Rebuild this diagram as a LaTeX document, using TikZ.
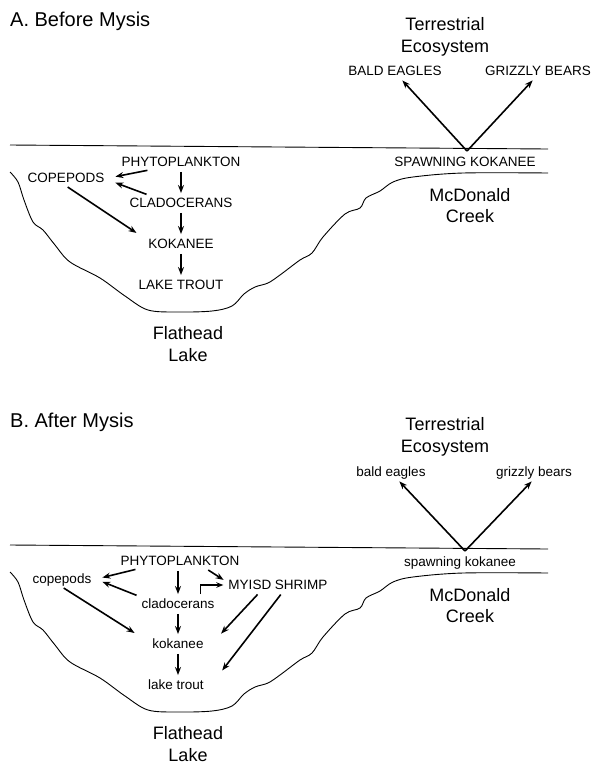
\documentclass[tikz,border=0pt]{standalone}
\usepackage{fontspec}
\setmainfont{Liberation Sans}
\usetikzlibrary{arrows.meta}
\begin{document}
\begin{tikzpicture}[x=1pt,y=-1pt,
  lbl/.style={font=\fontsize{13.5}{15}\selectfont,inner sep=3pt,text height=9.5pt,text depth=0pt},
  big/.style={font=\fontsize{18}{21.5}\selectfont,align=center,inner sep=1pt},
  ttl/.style={font=\fontsize{20}{24}\selectfont,anchor=west,inner sep=0pt},
  arr/.style={-{Stealth[length=8pt,width=6pt]},line width=1.6pt,shorten <=2pt,shorten >=2pt},
  shore/.style={line width=.9pt}]
\useasboundingbox (0,0) rectangle (593,764);
% water surface, lake bed and the fixed labels, once per panel
\foreach \dy/\p in {0/A,400/B}{
\begin{scope}[shift={(0,\dy)}]
\draw[shore] (10,145) -- (548,149);
\draw[shore] plot[smooth,tension=.55] coordinates {(10,172) (18,182) (24,200) (33,222) (43,230)
  (55,245) (70,262) (100,278) (125,296) (148,310) (178,312) (212,311) (232,306) (244,294)
  (255,287) (268,283) (280,275) (300,260) (312,253) (323,237) (345,214) (360,208) (366,198)
  (380,191) (393,182) (413,177) (463,173) (548,173)};
\node[big] (terr\p) at (445,37) {Terrestrial\\Ecosystem};
\node[big] (mcd\p) at (470,205.5) {McDonald\\Creek};
\node[big] (flat\p) at (188,344) {Flathead\\Lake};
\end{scope}
}
% A. before
\node[ttl] (titleA) at (10,21) {A. Before Mysis};
\node[lbl] (eaglesA) at (395,71) {BALD EAGLES};
\node[lbl] (bearsA) at (538,71) {GRIZZLY BEARS};
\node[lbl] (spawnA) at (465,162) {SPAWNING KOKANEE};
\coordinate (apexA) at (467,151);
\node[lbl] (phytoA) at (181,162) {PHYTOPLANKTON};
\node[lbl] (copeA) at (66,178) {COPEPODS};
\node[lbl] (cladoA) at (181,203) {CLADOCERANS};
\node[lbl] (kokA) at (181,244) {KOKANEE};
\node[lbl] (troutA) at (181,285) {LAKE TROUT};
\draw[arr,shorten <=0pt] (apexA) -- ([xshift=6pt]eaglesA.south);
\draw[arr,shorten <=0pt] (apexA) -- ([xshift=-4pt]bearsA.south);
\draw[arr] (phytoA) -- (cladoA);
\draw[arr] (cladoA) -- (kokA);
\draw[arr] (kokA) -- (troutA);
\draw[arr] ([xshift=31pt]phytoA.south west) -- ([xshift=6pt,yshift=1pt]copeA.east);
\draw[arr] ([xshift=22pt]cladoA.north west) -- ([xshift=6pt,yshift=-4pt]copeA.east);
\draw[arr] (copeA.south) -- ([xshift=-7pt,yshift=2pt]kokA.north west);
% B. after
\node[ttl] (titleB) at (10,422) {B. After Mysis};
\node[lbl] (eaglesB) at (391,472) {bald eagles};
\node[lbl] (bearsB) at (534,472) {grizzly bears};
\node[lbl] (spawnB) at (460,562) {spawning kokanee};
\coordinate (apexB) at (465,551);
\node[lbl] (phytoB) at (180,561) {PHYTOPLANKTON};
\node[lbl] (copeB) at (62,579) {copepods};
\node[lbl] (shrimpB) at (278,585) {MYISD SHRIMP};
\node[lbl] (cladoB) at (178,604) {cladocerans};
\node[lbl] (kokB) at (178,644) {kokanee};
\node[lbl] (troutB) at (176,685) {lake trout};
\draw[arr,shorten <=0pt] (apexB) -- ([xshift=7pt]eaglesB.south);
\draw[arr,shorten <=0pt] (apexB) -- ([xshift=-1pt]bearsB.south);
\draw[arr] (phytoB.south -| cladoB.north) -- (cladoB.north);
\draw[arr] (cladoB) -- (kokB);
\draw[arr] (kokB.south) -- (kokB.south |- troutB.north);
\draw[arr] ([xshift=20pt]phytoB.south west) -- ([xshift=6pt,yshift=1pt]copeB.east);
\draw[arr] (cladoB.north west) -- ([xshift=6pt,yshift=-2pt]copeB.east);
\draw[arr] (copeB.south) -- ([xshift=-13pt,yshift=2pt]kokB.north west);
\draw[arr] ([xshift=-36pt]phytoB.south east) -- ([yshift=4pt]shrimpB.west);
\draw[arr,-{Stealth[length=7pt,width=5.5pt]},line width=1.4pt] ([xshift=-17pt]cladoB.north east) |- (shrimpB.west);
\draw[arr] ([xshift=-19pt]shrimpB.south) -- ([xshift=13pt,yshift=1pt]kokB.north east);
\draw[arr] ([xshift=4pt]shrimpB.south) -- ([xshift=14pt,yshift=5pt]troutB.north east);
\end{tikzpicture}
\end{document}
